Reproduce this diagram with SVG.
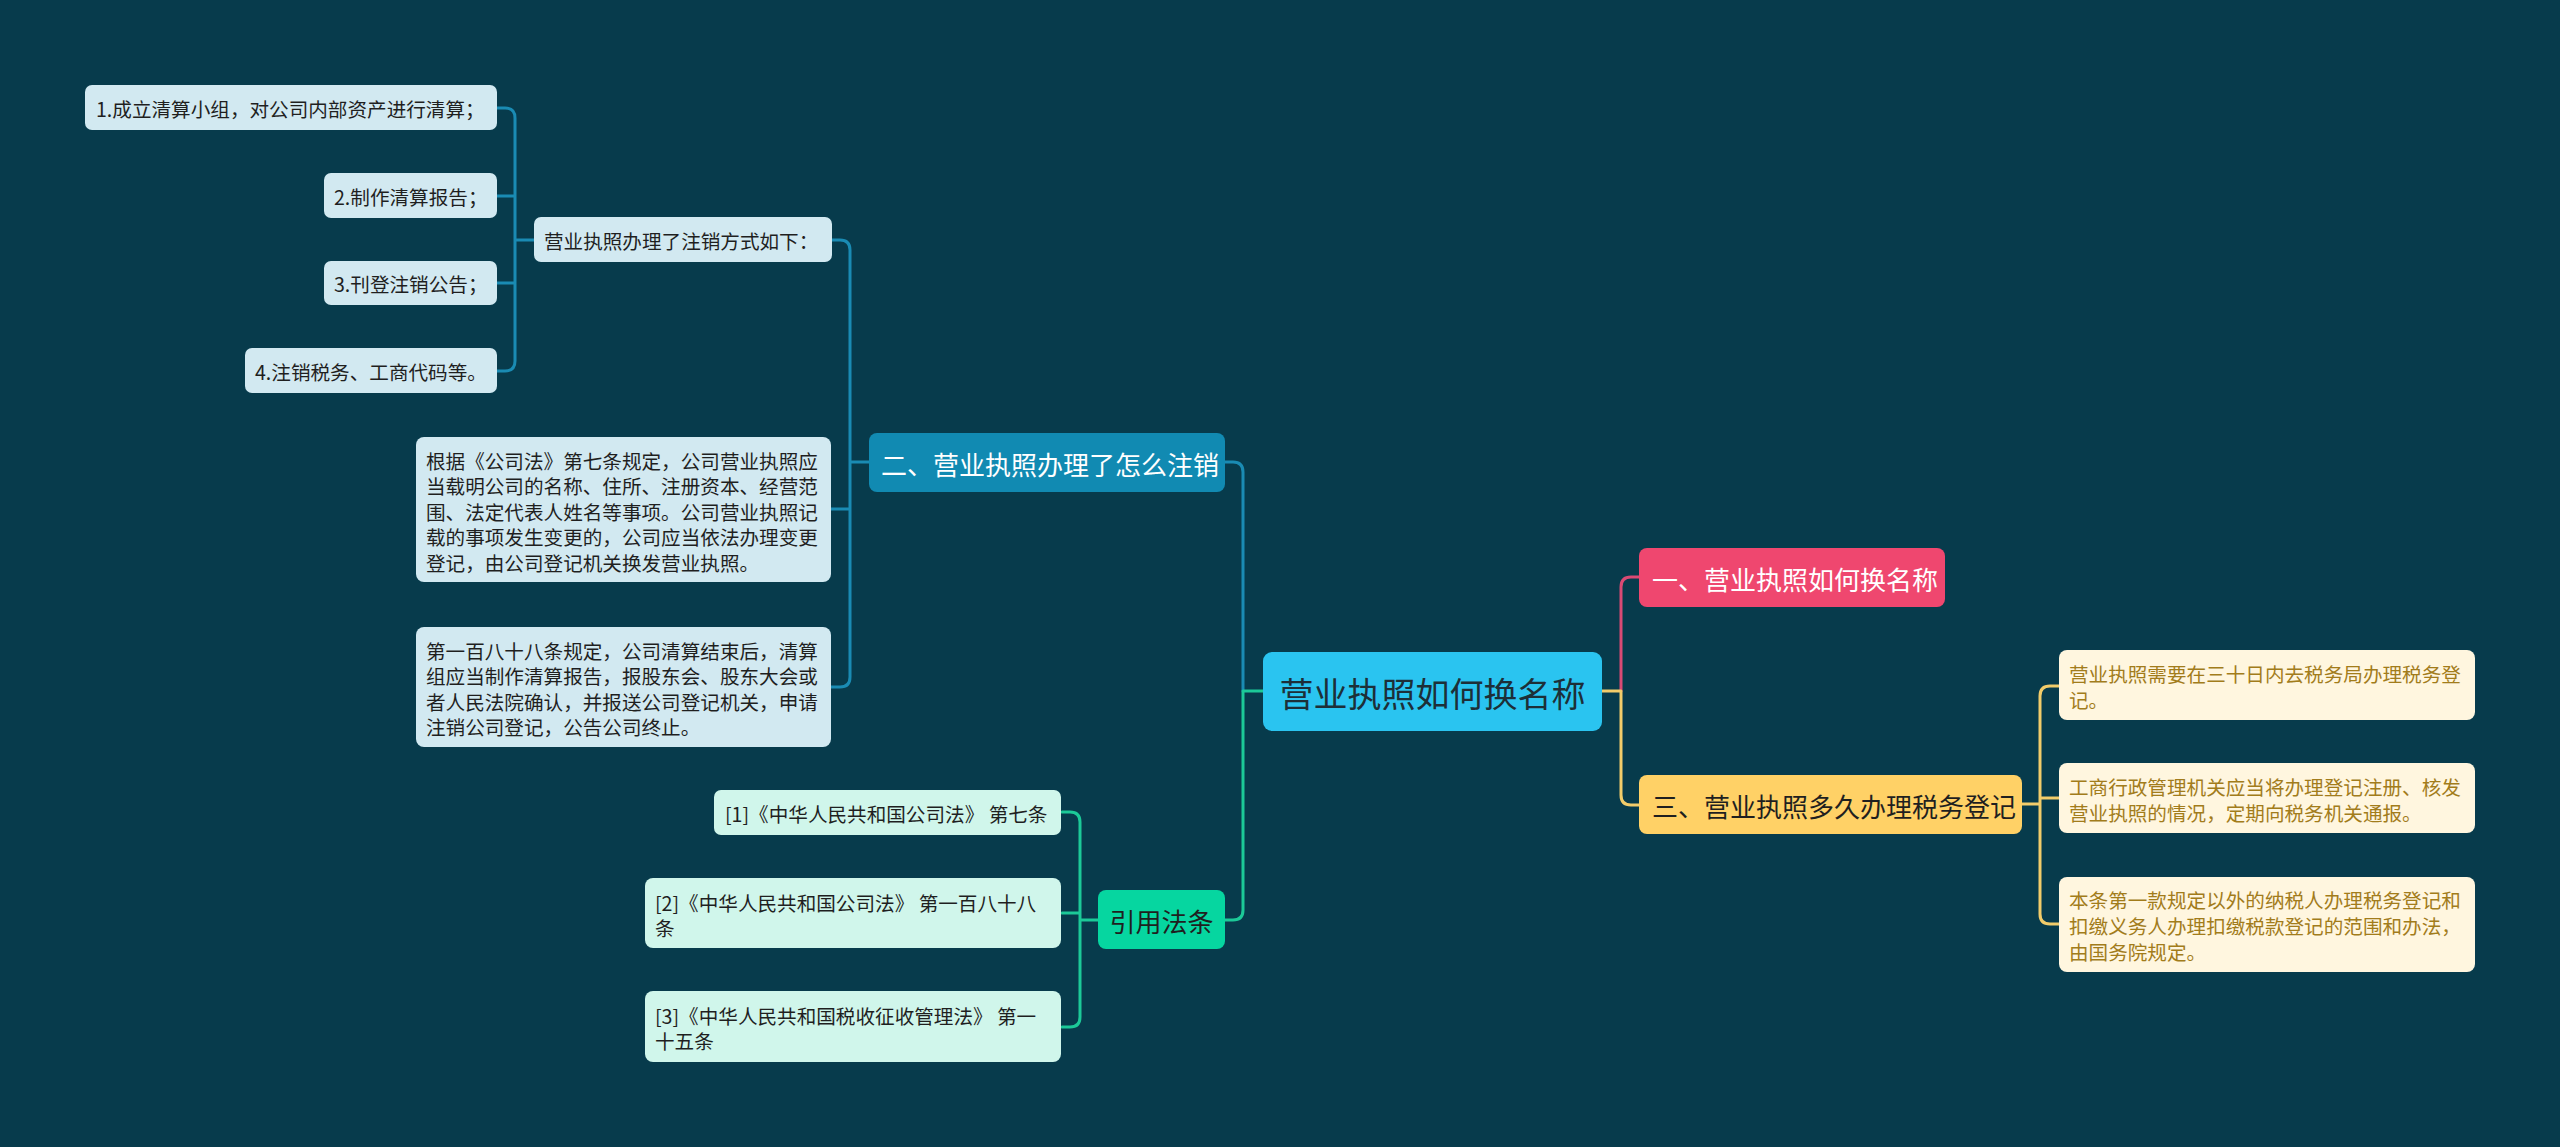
<svg xmlns="http://www.w3.org/2000/svg" width="2560" height="1147" viewBox="0 0 2560 1147">
<style>
text{font-family:"Noto Sans CJK SC","Noto Sans",sans-serif;dominant-baseline:central}
.lf{font-size:19.6px}
.br{font-size:26px}
.bl{fill:#D2E9F1}
.gl{fill:#D0F6EB}
.yl{fill:#FFF6DF}
.dk{fill:#1f1f1f}
.yt{fill:#A27C1B}
.c{fill:none;stroke-width:3;stroke-linecap:round;stroke-linejoin:round}
</style>
<rect width="2560" height="1147" fill="#073B4C"/>
<g id="connectors">
<path class="c" stroke="#1A8BB3" d="M1225,462 H1233 Q1243,462 1243,472 V691"/>
<path class="c" stroke="#1A8BB3" d="M869,462 H850 M832,240 H840 Q850,240 850,250 V677 Q850,687 840,687 H831 M831,509 H850"/>
<path class="c" stroke="#1A8BB3" d="M534,240 H515 M497,108 H505 Q515,108 515,118 V361 Q515,371 505,371 H497 M497,196 H515 M497,283 H515"/>
<path class="c" stroke="#1CC998" d="M1263,691 H1243 V910 Q1243,920 1233,920 H1225"/>
<path class="c" stroke="#1CC998" d="M1098,920 H1080 M1062,812 H1070 Q1080,812 1080,822 V1017 Q1080,1027 1070,1027 H1062 M1062,913 H1080"/>
<path class="c" stroke="#D94A74" d="M1621,691 V587 Q1621,577 1631,577 H1639"/>
<path class="c" stroke="#F2CC6A" d="M1602,691 H1621 V795 Q1621,805 1631,805 H1639"/>
<path class="c" stroke="#F2CC6A" d="M2022,804 H2040 M2059,686 H2050 Q2040,686 2040,696 V914 Q2040,924 2050,924 H2059 M2040,798 H2059"/>
</g>
<g id="root"><rect x="1263" y="652" width="339" height="79" rx="9" fill="#2AC4F0"/><text x="1432.5" y="692" font-size="34" text-anchor="middle" fill="#1d2f38">营业执照如何换名称</text></g>
<g id="n1"><rect x="1639" y="548" width="306" height="59" rx="8" fill="#EF476F"/><text class="br" x="1652" y="578" fill="#ffffff">一、营业执照如何换名称</text></g>
<g id="n3"><rect x="1639" y="775" width="383" height="59" rx="8" fill="#FFD166"/><text class="br" x="1652" y="805" fill="#1f1f1f">三、营业执照多久办理税务登记</text></g>
<g id="n3a"><rect class="yl" x="2059" y="650" width="416" height="70" rx="8"/><text class="lf yt" x="2069" y="673">营业执照需要在三十日内去税务局办理税务登</text><text class="lf yt" x="2069" y="699">记。</text></g>
<g id="n3b"><rect class="yl" x="2059" y="763" width="416" height="70" rx="8"/><text class="lf yt" x="2069" y="786">工商行政管理机关应当将办理登记注册、核发</text><text class="lf yt" x="2069" y="812">营业执照的情况，定期向税务机关通报。</text></g>
<g id="n3c"><rect class="yl" x="2059" y="877" width="416" height="95" rx="8"/><text class="lf yt" x="2069" y="899">本条第一款规定以外的纳税人办理税务登记和</text><text class="lf yt" x="2069" y="925">扣缴义务人办理扣缴税款登记的范围和办法，</text><text class="lf yt" x="2069" y="951">由国务院规定。</text></g>
<g id="n2"><rect x="869" y="433" width="356" height="59" rx="8" fill="#118AB2"/><text class="br" x="881" y="463" fill="#ffffff">二、营业执照办理了怎么注销</text></g>
<g id="n2a"><rect class="bl" x="534" y="217" width="298" height="45" rx="7"/><text class="lf dk" x="544" y="240">营业执照办理了注销方式如下：</text></g>
<g id="n2a1"><rect class="bl" x="85" y="85" width="412" height="45" rx="7"/><text class="lf dk" x="96" y="108">1.成立清算小组，对公司内部资产进行清算；</text></g>
<g id="n2a2"><rect class="bl" x="324" y="173" width="173" height="45" rx="7"/><text class="lf dk" x="334" y="196">2.制作清算报告；</text></g>
<g id="n2a3"><rect class="bl" x="324" y="261" width="173" height="44" rx="7"/><text class="lf dk" x="334" y="283">3.刊登注销公告；</text></g>
<g id="n2a4"><rect class="bl" x="245" y="348" width="252" height="45" rx="7"/><text class="lf dk" x="255" y="371">4.注销税务、工商代码等。</text></g>
<g id="n2b"><rect class="bl" x="416" y="437" width="415" height="145" rx="8"/><text class="lf dk" x="426" y="460">根据《公司法》第七条规定，公司营业执照应</text><text class="lf dk" x="426" y="485.6">当载明公司的名称、住所、注册资本、经营范</text><text class="lf dk" x="426" y="511.2">围、法定代表人姓名等事项。公司营业执照记</text><text class="lf dk" x="426" y="536.8">载的事项发生变更的，公司应当依法办理变更</text><text class="lf dk" x="426" y="562.4">登记，由公司登记机关换发营业执照。</text></g>
<g id="n2c"><rect class="bl" x="416" y="627" width="415" height="120" rx="8"/><text class="lf dk" x="426" y="650">第一百八十八条规定，公司清算结束后，清算</text><text class="lf dk" x="426" y="675.6">组应当制作清算报告，报股东会、股东大会或</text><text class="lf dk" x="426" y="701.2">者人民法院确认，并报送公司登记机关，申请</text><text class="lf dk" x="426" y="726.8">注销公司登记，公告公司终止。</text></g>
<g id="n4"><rect x="1098" y="890" width="127" height="59" rx="8" fill="#06D6A0"/><text class="br" x="1161.5" y="920" text-anchor="middle" fill="#1f1f1f">引用法条</text></g>
<g id="n4a"><rect class="gl" x="714" y="790" width="347" height="45" rx="7"/><text class="lf dk" x="725" y="813">[1]《中华人民共和国公司法》 第七条</text></g>
<g id="n4b"><rect class="gl" x="645" y="878" width="416" height="70" rx="8"/><text class="lf dk" x="655" y="902">[2]《中华人民共和国公司法》 第一百八十八</text><text class="lf dk" x="655" y="927">条</text></g>
<g id="n4c"><rect class="gl" x="645" y="991" width="416" height="71" rx="8"/><text class="lf dk" x="655" y="1015">[3]《中华人民共和国税收征收管理法》 第一</text><text class="lf dk" x="655" y="1040">十五条</text></g>
</svg>
